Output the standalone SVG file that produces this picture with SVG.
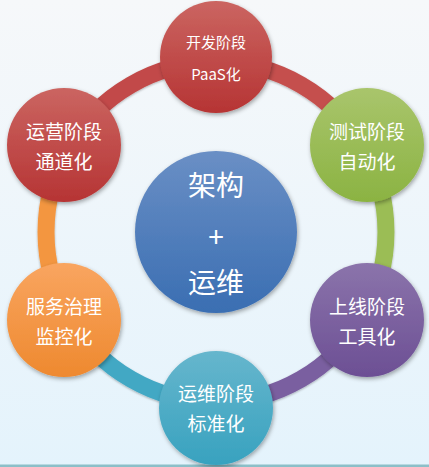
<svg xmlns="http://www.w3.org/2000/svg" width="429" height="467" viewBox="0 0 429 467">
<style>
.t{font-family:"Noto Sans CJK SC","Microsoft YaHei",sans-serif;fill:#ffffff;text-anchor:middle;dominant-baseline:central;}
.s{font-size:19px;}
.m{font-size:15px;}
.b{font-size:28px;}
.ring{fill:none;stroke-width:17;}
</style>
<defs>
<linearGradient id="bg" x1="0" y1="0" x2="0" y2="1">
<stop offset="0" stop-color="#f6f8fa"/>
<stop offset="1" stop-color="#e4f3fc"/>
</linearGradient>
<linearGradient id="gr" x1="0" y1="0" x2="0" y2="1"><stop offset="0" stop-color="#cb6561"/><stop offset="1" stop-color="#b63434"/></linearGradient>
<linearGradient id="gg" x1="0" y1="0" x2="0" y2="1"><stop offset="0" stop-color="#a9c56c"/><stop offset="1" stop-color="#8bb342"/></linearGradient>
<linearGradient id="gp" x1="0" y1="0" x2="0" y2="1"><stop offset="0" stop-color="#8b74ab"/><stop offset="1" stop-color="#6c4f94"/></linearGradient>
<linearGradient id="gt" x1="0" y1="0" x2="0" y2="1"><stop offset="0" stop-color="#66b6cd"/><stop offset="1" stop-color="#38a2bf"/></linearGradient>
<linearGradient id="go" x1="0" y1="0" x2="0" y2="1"><stop offset="0" stop-color="#f9a560"/><stop offset="1" stop-color="#ee892f"/></linearGradient>
<linearGradient id="gb" x1="0" y1="0" x2="0" y2="1"><stop offset="0" stop-color="#6a8fc5"/><stop offset="1" stop-color="#3a6eb2"/></linearGradient>
<filter id="sh" x="-20%" y="-20%" width="140%" height="140%">
<feDropShadow dx="1" dy="2" stdDeviation="2" flood-color="#000" flood-opacity="0.35"/>
</filter>
<filter id="rs" x="-10%" y="-10%" width="120%" height="120%">
<feDropShadow dx="0" dy="1" stdDeviation="1.2" flood-color="#000" flood-opacity="0.3"/>
</filter>
</defs>
<rect x="0" y="0" width="429" height="467" fill="url(#bg)"/>
<rect x="0" y="464.5" width="429" height="2.5" fill="#8cbfc8"/>
<g id="connectors" filter="url(#rs)">
<path class="ring" stroke="#c5504e" d="M216,62 A170,170 0 0 1 363.2,147"/>
<path class="ring" stroke="#9bbd55" d="M363.2,147 A170,170 0 0 1 363.2,317"/>
<path class="ring" stroke="#7a5ea0" d="M363.2,317 A170,170 0 0 1 216,402"/>
<path class="ring" stroke="#43a8c4" d="M216,402 A170,170 0 0 1 68.8,317"/>
<path class="ring" stroke="#f39641" d="M68.8,317 A170,170 0 0 1 68.8,147"/>
<path class="ring" stroke="#c24a48" d="M68.8,147 A170,170 0 0 1 216,62"/>
</g>
<g id="node-top">
<circle cx="216" cy="57" r="56" fill="url(#gr)" filter="url(#sh)"/>
<text class="t m" x="216" y="41">开发阶段</text>
<text class="t m" x="216" y="73">PaaS化</text>
</g>
<g id="node-test">
<circle cx="367" cy="145" r="57" fill="url(#gg)" filter="url(#sh)"/>
<text class="t s" x="367" y="130">测试阶段</text>
<text class="t s" x="367" y="160">自动化</text>
</g>
<g id="node-online">
<circle cx="367" cy="320" r="57" fill="url(#gp)" filter="url(#sh)"/>
<text class="t s" x="367" y="305">上线阶段</text>
<text class="t s" x="367" y="335">工具化</text>
</g>
<g id="node-ops">
<circle cx="216" cy="408" r="57" fill="url(#gt)" filter="url(#sh)"/>
<text class="t s" x="216" y="392">运维阶段</text>
<text class="t s" x="216" y="422">标准化</text>
</g>
<g id="node-service">
<circle cx="64" cy="320" r="57" fill="url(#go)" filter="url(#sh)"/>
<text class="t s" x="64" y="305">服务治理</text>
<text class="t s" x="64" y="335">监控化</text>
</g>
<g id="node-operate">
<circle cx="64" cy="145" r="57" fill="url(#gr)" filter="url(#sh)"/>
<text class="t s" x="64" y="130">运营阶段</text>
<text class="t s" x="64" y="160">通道化</text>
</g>
<g id="node-center">
<circle cx="216" cy="232" r="81" fill="url(#gb)" filter="url(#sh)"/>
<text class="t b" x="216" y="184">架构</text>
<text class="t b" x="216" y="235">+</text>
<text class="t b" x="216" y="281">运维</text>
</g>
</svg>
